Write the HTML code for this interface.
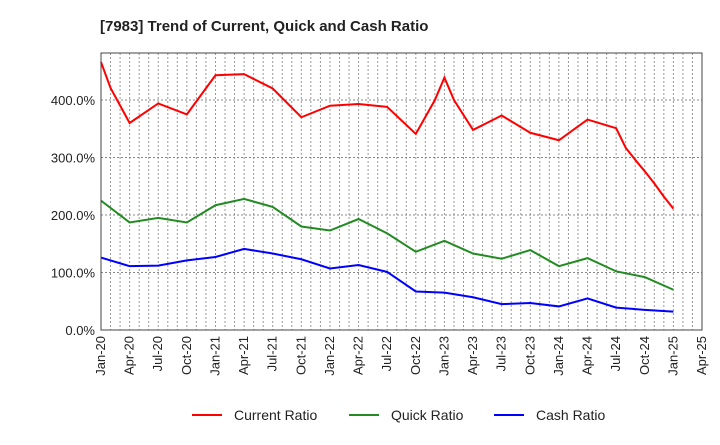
<!DOCTYPE html>
<html><head><meta charset="utf-8"><style>
body{margin:0;background:#fff;font-family:"Liberation Sans",sans-serif}
</style></head><body>
<svg id="c" width="720" height="440" xmlns="http://www.w3.org/2000/svg">
<text x="100" y="31" font-size="15" font-weight="bold" fill="#222">[7983]  Trend of Current, Quick and Cash Ratio</text>
<g id="grid"></g><g id="series"></g><g id="axes"></g>
<g font-size="14" fill="#222">
<line x1="192" y1="415" x2="222" y2="415" stroke="#f00" stroke-width="2"/>
<text x="234" y="420">Current Ratio</text>
<line x1="349" y1="415" x2="379" y2="415" stroke="#228b22" stroke-width="2"/>
<text x="391" y="420">Quick Ratio</text>
<line x1="494" y1="415" x2="524" y2="415" stroke="#00f" stroke-width="2"/>
<text x="536" y="420">Cash Ratio</text>
</g>
</svg>
<script>
const xTickLabels=["Jan-20","Apr-20","Jul-20","Oct-20","Jan-21","Apr-21","Jul-21","Oct-21","Jan-22","Apr-22","Jul-22","Oct-22","Jan-23","Apr-23","Jul-23","Oct-23","Jan-24","Apr-24","Jul-24","Oct-24","Jan-25","Apr-25"];
const yTicks=[0,100,200,300,400];
const currentMonths=[0,1,3,6,9,12,15,18,21,24,27,30,33,35,36,37,39,42,45,48,51,54,55,56,57,58,59,60];
const currentValues=[466,421,360,394,375,443,445,420,370,390,393,388,341,400,439,400,348,373,343,330,366,351,317,296,276,255,232,211];
const quarterMonths=[0,3,6,9,12,15,18,21,24,27,30,33,36,39,42,45,48,51,54,57,60];
const quickValues=[225,187,195,187,217,228,214,180,173,193,168,136,155,133,124,139,111,125,102,92,70];
const cashValues=[126,111,112,121,127,141,133,123,107,113,101,67,65,57,45,47,41,55,39,35,32];
const L=101,R=702,T=53,B=330;
const x=m=>L+m*(R-L)/63;
const y=v=>B-v*57.5/100;
const NS="http://www.w3.org/2000/svg";
function mk(tag,attrs,parent){const e=document.createElementNS(NS,tag);for(const k in attrs)e.setAttribute(k,attrs[k]);parent.appendChild(e);return e;}
const grid=document.getElementById('grid'),axes=document.getElementById('axes'),ser=document.getElementById('series');
for(let m=1;m<63;m++){const g=mk('line',{x1:x(m),x2:x(m),y1:T,y2:B,stroke:'#999','stroke-dasharray':'2,2','stroke-width':1},grid);

}
yTicks.forEach(v=>{if(v>0){const g=mk('line',{x1:L,x2:R,y1:y(v),y2:y(v),stroke:'#888','stroke-dasharray':'2,2','stroke-width':1},grid);

}
const t=mk('text',{x:L-6,y:y(v)+5,'text-anchor':'end','font-size':13,fill:'#222'},axes);t.textContent=v.toFixed(1)+'%';

});
xTickLabels.forEach((s,i)=>{const px=x(i*3);const t=mk('text',{transform:`translate(${px+4},${B+6}) rotate(-90)`,'text-anchor':'end','font-size':13,fill:'#222'},axes);t.textContent=s;

});
const fr=mk('rect',{x:L,y:T,width:R-L,height:B-T,fill:'none',stroke:'#444','stroke-width':1},axes);


function line(ms,vs,color,name){const p=mk('polyline',{points:ms.map((m,i)=>x(m)+','+y(vs[i])).join(' '),fill:'none',stroke:color,'stroke-width':2},ser);

}
line(currentMonths,currentValues,'#f00','current-ratio-line');
line(quarterMonths,quickValues,'#228b22','quick-ratio-line');
line(quarterMonths,cashValues,'#00f','cash-ratio-line');
</script>
</body></html>
